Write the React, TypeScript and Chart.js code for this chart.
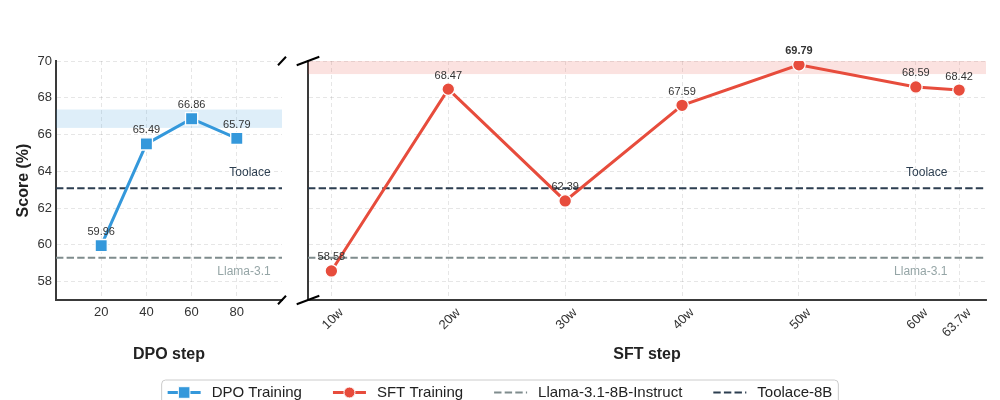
import React, { useEffect, useRef } from "react";
import { Chart, registerables } from "chart.js";

Chart.register(...registerables);

const FONT = '"Liberation Sans", Arial, Helvetica, sans-serif';

// ---- data ----
const dpoSteps = [20, 40, 60, 80];
const dpoScores = [59.96, 65.49, 66.86, 65.79];
const sftSteps = [10, 20, 30, 40, 50, 60, 63.7];
const sftLabels = ["10w", "20w", "30w", "40w", "50w", "60w", "63.7w"];
const sftScores = [58.58, 68.47, 62.39, 67.59, 69.79, 68.59, 68.42];
const yTicks = [58, 60, 62, 64, 66, 68, 70];
const llamaScore = 59.3;
const toolaceScore = 63.08;
const legendLabels = ["DPO Training", "SFT Training", "Llama-3.1-8B-Instruct", "Toolace-8B"];
const llamaText = "Llama-3.1";
const toolaceText = "Toolace";

const Y_MIN = 57;
const Y_MAX = 70;
const DPO_X_MIN = 0;
const DPO_X_MAX = 100;
const SFT_X_MIN = 8;
const SFT_X_MAX = 66;

const BLUE = "#3498db";
const RED = "#e74c3c";
const GRAY = "#7f8c8d";
const DARK = "#2c3e50";
const DASH = [7.4, 3.2];
const TICK_SIZE = 13;

type PanelOpts = {
  side: "left" | "right";
  bandColor: string;
  boldIndex: number;
  xMax: number;
};

function drawIcon(ctx: CanvasRenderingContext2D, kind: number, x: number, y: number, w: number) {
  ctx.save();
  if (kind === 0 || kind === 1) {
    const c = kind === 0 ? BLUE : RED;
    ctx.strokeStyle = c;
    ctx.lineWidth = 3;
    ctx.beginPath();
    ctx.moveTo(x, y);
    ctx.lineTo(x + w, y);
    ctx.stroke();
    ctx.fillStyle = c;
    ctx.strokeStyle = "#fff";
    ctx.lineWidth = 1;
    ctx.beginPath();
    if (kind === 0) {
      ctx.rect(x + w / 2 - 5.8, y - 5.8, 11.6, 11.6);
    } else {
      ctx.arc(x + w / 2, y, 5.5, 0, Math.PI * 2);
    }
    ctx.fill();
    ctx.stroke();
  } else {
    ctx.strokeStyle = kind === 2 ? GRAY : DARK;
    ctx.lineWidth = 2;
    ctx.setLineDash(DASH);
    ctx.beginPath();
    ctx.moveTo(x, y);
    ctx.lineTo(x + w, y);
    ctx.stroke();
  }
  ctx.restore();
}

function makePlugin(o: PanelOpts) {
  return {
    id: "panelDecor",
    beforeDatasetsDraw(chart: any) {
      const { ctx, chartArea: a, scales } = chart;
      const y = scales.y;
      const best = Math.max(...chart.data.datasets[0].data.map((p: any) => p.y));
      const top = Math.max(a.top, y.getPixelForValue(best + 0.5));
      const bot = Math.min(a.bottom, y.getPixelForValue(best - 0.5));
      ctx.save();
      ctx.fillStyle = o.bandColor;
      ctx.fillRect(a.left, top, a.right - a.left, bot - top);
      ctx.restore();
    },
    afterDatasetsDraw(chart: any) {
      const { ctx, scales } = chart;
      const meta = chart.getDatasetMeta(0);
      const data = chart.data.datasets[0].data;
      ctx.save();
      ctx.fillStyle = "#333";
      ctx.textAlign = "center";
      ctx.textBaseline = "middle";
      meta.data.forEach((pt: any, i: number) => {
        ctx.font = `${i === o.boldIndex ? "bold " : ""}11px ${FONT}`;
        ctx.fillText(data[i].y.toFixed(2), pt.x, pt.y - 13.5);
      });
      // baseline names
      const tx = scales.x.getPixelForValue(o.xMax * 0.95);
      ctx.font = `12px ${FONT}`;
      ctx.textAlign = "right";
      ctx.fillStyle = DARK;
      ctx.fillText(toolaceText, tx, scales.y.getPixelForValue(toolaceScore + 0.87));
      ctx.fillStyle = "#95a5a6";
      ctx.fillText(llamaText, tx, scales.y.getPixelForValue(llamaScore - 0.76));
      ctx.restore();
    },
    afterDraw(chart: any) {
      const { ctx, chartArea: a } = chart;
      ctx.save();
      ctx.strokeStyle = "#000";
      ctx.lineWidth = 2;
      const dx = o.side === "left" ? 4 : 11.3;
      const dy = 4.2;
      const bx = o.side === "left" ? a.right : a.left;
      [a.top, a.bottom].forEach((by: number) => {
        ctx.beginPath();
        ctx.moveTo(bx - dx, by + dy);
        ctx.lineTo(bx + dx, by - dy);
        ctx.stroke();
      });
      ctx.restore();

      if (o.side === "left") {
        // legend
        ctx.save();
        ctx.font = `15px ${FONT}`;
        const iconW = 33;
        const gap = 11;
        const sep = 31;
        const widths = legendLabels.map((t) => ctx.measureText(t).width);
        const total =
          widths.reduce((s, w) => s + iconW + gap + w, 0) + sep * (legendLabels.length - 1);
        let x = chart.width / 2 - total / 2;
        const yc = 392.5;
        ctx.beginPath();
        (ctx as any).roundRect(x - 6, 380, total + 12, 32, 4);
        ctx.fillStyle = "rgba(255,255,255,0.85)";
        ctx.fill();
        ctx.strokeStyle = "#cccccc";
        ctx.lineWidth = 1;
        ctx.stroke();
        legendLabels.forEach((t, i) => {
          drawIcon(ctx, i, x, yc, iconW);
          ctx.fillStyle = "#222";
          ctx.textAlign = "left";
          ctx.textBaseline = "middle";
          ctx.fillText(t, x + iconW + gap, yc + 0.5);
          x += iconW + gap + widths[i] + sep;
        });
        ctx.restore();
      }
    },
  };
}

function baseLine(label: string, v: number, xmin: number, xmax: number, color: string) {
  return {
    label,
    data: [
      { x: xmin, y: v },
      { x: xmax, y: v },
    ],
    borderColor: color,
    borderWidth: 2,
    borderDash: DASH,
    pointRadius: 0,
    fill: false,
    order: 2,
  };
}

const gridOpts = { color: "rgba(0,0,0,0.11)", lineWidth: 0.9, drawTicks: false };
const borderOpts = { display: true, color: "#3a3a3a", width: 2, dash: [4, 3] };

function setTicks(values: number[]) {
  return (s: any) => {
    s.ticks = values.map((v) => ({ value: v }));
  };
}

function buildLeft(): any {
  return {
    type: "line",
    data: {
      datasets: [
        {
          label: legendLabels[0],
          data: dpoSteps.map((x, i) => ({ x, y: dpoScores[i] })),
          borderColor: BLUE,
          backgroundColor: BLUE,
          borderWidth: 3,
          pointStyle: "rect",
          pointRadius: 8.6,
          pointBorderColor: "#fff",
          pointBorderWidth: 1.3,
          order: 1,
        },
        baseLine(legendLabels[2], llamaScore, DPO_X_MIN, DPO_X_MAX, GRAY),
        baseLine(legendLabels[3], toolaceScore, DPO_X_MIN, DPO_X_MAX, DARK),
      ],
    },
    options: {
      animation: false,
      responsive: false,
      devicePixelRatio: 1,
      events: [],
      layout: { padding: { left: 0, top: 61, right: 718, bottom: 34 } },
      plugins: { legend: { display: false }, tooltip: { enabled: false } },
      scales: {
        x: {
          type: "linear",
          min: DPO_X_MIN,
          max: DPO_X_MAX,
          afterBuildTicks: setTicks(dpoSteps),
          afterFit: (s: any) => {
            s.height = 66;
          },
          grid: gridOpts,
          border: borderOpts,
          ticks: { font: { size: TICK_SIZE, family: FONT }, color: "#333", padding: 5, maxRotation: 0 },
          title: {
            display: true,
            text: "DPO step",
            font: { size: 16, weight: "bold", family: FONT },
            color: "#222",
            padding: { top: 4, bottom: 2 },
          },
        },
        y: {
          min: Y_MIN,
          max: Y_MAX,
          afterBuildTicks: setTicks(yTicks),
          afterFit: (s: any) => {
            s.width = 56;
          },
          grid: gridOpts,
          border: borderOpts,
          ticks: { font: { size: TICK_SIZE, family: FONT }, color: "#333", padding: 4 },
          title: {
            display: true,
            text: "Score (%)",
            font: { size: 16, weight: "bold", family: FONT },
            color: "#222",
            padding: { top: 14, bottom: 0 },
          },
        },
      },
    },
    plugins: [makePlugin({ side: "left", bandColor: "rgba(52,152,219,0.16)", boldIndex: -1, xMax: DPO_X_MAX })],
  };
}

function buildRight(): any {
  const best = sftScores.indexOf(Math.max(...sftScores));
  return {
    type: "line",
    data: {
      datasets: [
        {
          label: legendLabels[1],
          data: sftSteps.map((x, i) => ({ x, y: sftScores[i] })),
          borderColor: RED,
          backgroundColor: RED,
          borderWidth: 3,
          pointStyle: "circle",
          pointRadius: 6.3,
          pointBorderColor: "#fff",
          pointBorderWidth: 1.3,
          order: 1,
        },
        baseLine(legendLabels[2], llamaScore, SFT_X_MIN, SFT_X_MAX, GRAY),
        baseLine(legendLabels[3], toolaceScore, SFT_X_MIN, SFT_X_MAX, DARK),
      ],
    },
    options: {
      animation: false,
      responsive: false,
      devicePixelRatio: 1,
      events: [],
      layout: { padding: { left: 308, top: 61, right: 14, bottom: 34 } },
      plugins: { legend: { display: false }, tooltip: { enabled: false } },
      scales: {
        x: {
          type: "linear",
          min: SFT_X_MIN,
          max: SFT_X_MAX,
          afterBuildTicks: setTicks(sftSteps),
          afterFit: (s: any) => {
            s.height = 66;
          },
          grid: gridOpts,
          border: borderOpts,
          ticks: {
            font: { size: TICK_SIZE, family: FONT },
            color: "#333",
            padding: 5,
            minRotation: 45,
            maxRotation: 45,
            autoSkip: false,
            labelOffset: 10,
            callback: (v: number) => {
              const i = sftSteps.indexOf(v);
              return i >= 0 ? sftLabels[i] : "";
            },
          },
          title: {
            display: true,
            text: "SFT step",
            font: { size: 16, weight: "bold", family: FONT },
            color: "#222",
            padding: { top: 4, bottom: 2 },
          },
        },
        y: {
          min: Y_MIN,
          max: Y_MAX,
          afterBuildTicks: setTicks(yTicks),
          afterFit: (s: any) => {
            s.width = 0;
          },
          grid: gridOpts,
          border: borderOpts,
          ticks: { display: false },
        },
      },
    },
    plugins: [makePlugin({ side: "right", bandColor: "rgba(231,76,60,0.16)", boldIndex: best, xMax: SFT_X_MAX })],
  };
}

export default function App() {
  const r1 = useRef<HTMLCanvasElement>(null);
  const r2 = useRef<HTMLCanvasElement>(null);
  useEffect(() => {
    Chart.defaults.font.family = FONT;
    const c1 = new Chart(r1.current as HTMLCanvasElement, buildLeft());
    const c2 = new Chart(r2.current as HTMLCanvasElement, buildRight());
    return () => {
      c1.destroy();
      c2.destroy();
    };
  }, []);
  const cs: React.CSSProperties = { position: "absolute", left: 0, top: 0, width: 1000, height: 400 };
  return (
    <div style={{ position: "absolute", left: 0, top: 0, width: 1000, height: 400, background: "#fff", overflow: "hidden" }}>
      <canvas ref={r1} width={1000} height={400} style={cs} />
      <canvas ref={r2} width={1000} height={400} style={cs} />
    </div>
  );
}
